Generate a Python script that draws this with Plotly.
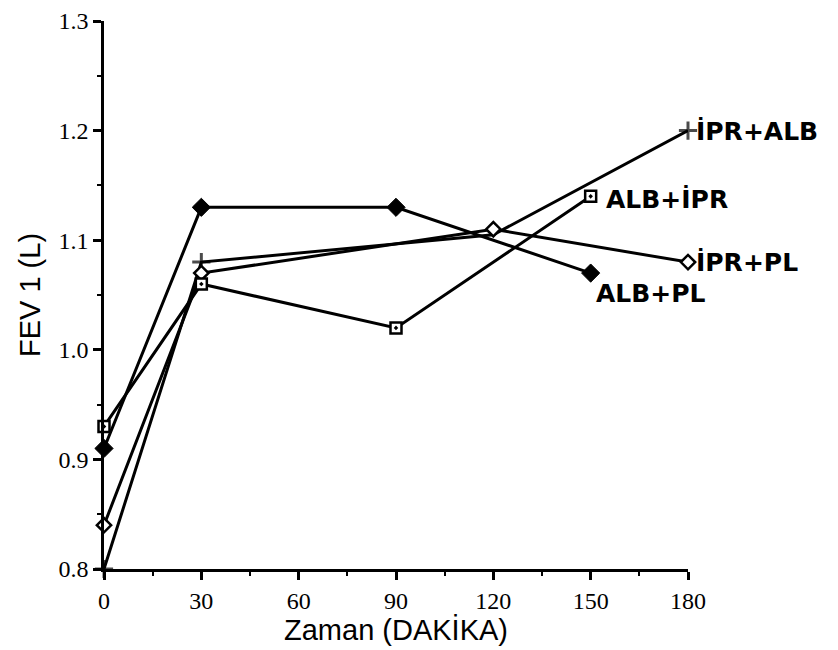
import plotly.graph_objects as go

# Data
x_ipr_alb = [0, 30, 120, 180]
y_ipr_alb = [0.80, 1.08, 1.105, 1.20]

x_ipr_pl = [0, 30, 120, 180]
y_ipr_pl = [0.84, 1.07, 1.11, 1.08]

x_alb_pl = [0, 30, 90, 150]
y_alb_pl = [0.91, 1.13, 1.13, 1.07]

x_alb_ipr = [0, 30, 90, 150]
y_alb_ipr = [0.93, 1.06, 1.02, 1.14]

x_ticks = [0, 30, 60, 90, 120, 150, 180]
y_ticks = [0.8, 0.9, 1.0, 1.1, 1.2, 1.3]
y_tick_text = ["0.8", "0.9", "1.0", "1.1", "1.2", "1.3"]

labels = ["İPR+ALB", "ALB+İPR", "İPR+PL", "ALB+PL"]

fig = go.Figure()
line = dict(color="black", width=3)

fig.add_trace(go.Scatter(x=x_ipr_alb, y=y_ipr_alb, mode="lines+markers", line=line,
                         marker=dict(symbol=["cross-thin", "cross-thin", "circle", "cross-thin"],
                                     size=[13, 13, 0, 13], color="black",
                                     line=dict(color="black", width=3)),
                         cliponaxis=False, showlegend=False))
fig.add_trace(go.Scatter(x=x_ipr_pl, y=y_ipr_pl, mode="lines+markers", line=line,
                         marker=dict(symbol="diamond", size=11, color="white",
                                     line=dict(color="black", width=2.5)),
                         cliponaxis=False, showlegend=False))
fig.add_trace(go.Scatter(x=x_alb_pl, y=y_alb_pl, mode="lines+markers", line=line,
                         marker=dict(symbol="diamond", size=14, color="black",
                                     line=dict(color="black", width=1)),
                         cliponaxis=False, showlegend=False))
fig.add_trace(go.Scatter(x=x_alb_ipr, y=y_alb_ipr, mode="lines+markers", line=line,
                         marker=dict(symbol="square-dot", size=11, color="white",
                                     line=dict(color="black", width=2.5)),
                         cliponaxis=False, showlegend=False))

# Right-side labels
ann_font = dict(family="DejaVu Sans, Arial, sans-serif", size=25, color="black")
fig.add_annotation(x=x_ipr_alb[-1], y=y_ipr_alb[-1], text="<b>" + labels[0] + "</b>",
                   xanchor="left", yanchor="middle", xshift=6, showarrow=False, font=ann_font)
fig.add_annotation(x=x_alb_ipr[-1], y=y_alb_ipr[-1], text="<b>" + labels[1] + "</b>",
                   xanchor="left", yanchor="middle", xshift=13, yshift=-3, showarrow=False, font=ann_font)
fig.add_annotation(x=x_ipr_pl[-1], y=y_ipr_pl[-1], text="<b>" + labels[2] + "</b>",
                   xanchor="left", yanchor="middle", xshift=6, showarrow=False, font=ann_font)
fig.add_annotation(x=x_alb_pl[-1], y=y_alb_pl[-1], text="<b>" + labels[3] + "</b>",
                   xanchor="left", yanchor="top", xshift=3, yshift=-4, showarrow=False, font=ann_font)

tick_font = dict(family="Liberation Serif, Times New Roman, serif", size=24, color="black")
title_font = dict(family="Liberation Sans, Arial, sans-serif", size=29, color="black")

fig.update_xaxes(range=[0, 180], tickvals=x_ticks, ticktext=[str(v) for v in x_ticks],
                 showline=True, linecolor="black", linewidth=2.5, ticks="outside",
                 ticklen=8, tickwidth=2.5, tickcolor="black", showgrid=False, zeroline=False,
                 automargin=False, ticklabeloverflow="allow",
                 tickfont=tick_font, title=dict(text="Zaman (DAKİKA)", font=title_font, standoff=2),
                 minor=dict(dtick=15, ticks="outside", ticklen=4, tickwidth=2, tickcolor="black",
                            showgrid=False))
fig.update_yaxes(range=[0.8, 1.3], tickvals=y_ticks, ticktext=y_tick_text,
                 showline=True, linecolor="black", linewidth=2.5, ticks="outside",
                 ticklen=8, tickwidth=2.5, tickcolor="black", showgrid=False, zeroline=False,
                 automargin=False, ticklabeloverflow="allow",
                 tickfont=tick_font, title=dict(text="FEV 1 (L)", font=title_font, standoff=10),
                 minor=dict(dtick=0.05, tick0=0.8, ticks="outside", ticklen=4, tickwidth=2,
                            tickcolor="black", showgrid=False))

fig.update_layout(width=838, height=650, plot_bgcolor="white", paper_bgcolor="white",
                  margin=dict(l=96, r=158, t=13, b=89))

fig.write_html("out.html")
